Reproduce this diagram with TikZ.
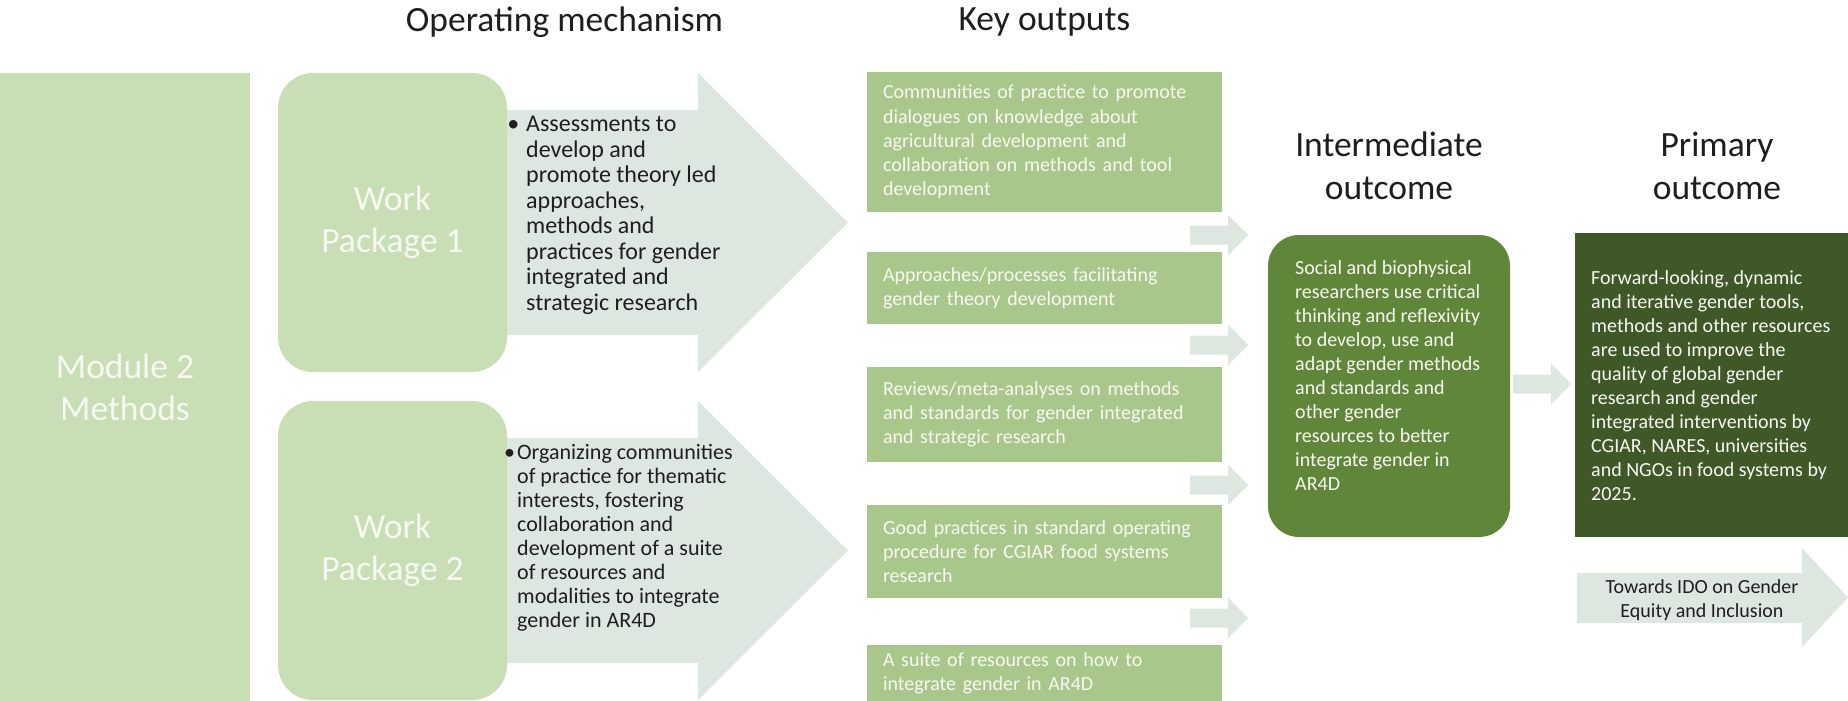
\documentclass[tikz,border=0pt]{standalone}
\usepackage{fontspec}
\setmainfont{Carlito}
\definecolor{modg}{RGB}{200,222,180}
\definecolor{keyg}{RGB}{169,199,139}
\definecolor{midg}{RGB}{96,134,58}
\definecolor{darkg}{RGB}{62,88,40}
\definecolor{arrg}{RGB}{222,231,223}
\definecolor{wtxt}{RGB}{246,249,242}
\definecolor{btxt}{RGB}{30,30,30}
\tikzset{
 ttl/.style={inner sep=0pt, text=btxt, font=\fontsize{35.5}{43}\selectfont, align=center},
 bigbox/.style={fill=modg, inner sep=0pt, text=wtxt, font=\fontsize{35.5}{42}\selectfont, align=center},
 keybox/.style={fill=keyg, inner xsep=16pt, inner ysep=0pt, text width=323pt, minimum width=355pt, align=left, text=wtxt, font=\fontsize{20}{24.2}\selectfont},
 outtxt/.style={inner sep=0pt, align=left, text=wtxt, font=\fontsize{20}{24}\selectfont},
 wptxt/.style={inner sep=0pt, align=left, text=btxt},
 arr/.style={fill=arrg},
 chev/.pic={\fill[arrg] (0,-9.5) -- (38,-9.5) -- (38,-20.5) -- (58,0) -- (38,20.5) -- (38,9.5) -- (0,9.5) -- cycle;}
}
\begin{document}
\begin{tikzpicture}[x=1pt,y=-1pt]
\useasboundingbox (0,0) rectangle (1848,701);
\fill[white] (0,0) rectangle (1848,701);

% titles
\node[ttl] (t1) at (564.5,22) {Operating mechanism};
\node[ttl] (t2) at (1044.5,22) {Key outputs};
\node[ttl] (t3) at (1389,166) {Intermediate\\outcome};
\node[ttl] (t4) at (1717,166) {Primary\\outcome};

% module
\node[bigbox, minimum width=250pt, minimum height=628pt] (mod) at (125,387) {Module 2\\Methods};

% big arrows
\fill[arr] (480,110) -- (698,110) -- (698,73) -- (848,222.5) -- (698,372) -- (698,335) -- (480,335) -- cycle;
\fill[arr] (480,438) -- (698,438) -- (698,401) -- (848,550.5) -- (698,700) -- (698,663) -- (480,663) -- cycle;

% work packages
\node[bigbox, rounded corners=35pt, minimum width=229pt, minimum height=299pt] (wp1) at (392.5,222.5) {Work\\Package 1};
\node[bigbox, rounded corners=35pt, minimum width=229pt, minimum height=299pt] (wp2) at (392.5,550.5) {Work\\Package 2};

\node[wptxt, font=\fontsize{24}{25.5}\selectfont, anchor=west] (wp1t) at (526,215.5)
 {\llap{\textbullet\hspace{7pt}}Assessments to\\develop and\\promote theory led\\approaches,\\methods and\\practices for gender\\integrated and\\strategic research};
\node[wptxt, font=\fontsize{22}{24}\selectfont, anchor=west] (wp2t) at (517,537.5)
 {\llap{\textbullet\hspace{2pt}}Organizing communities\\of practice for thematic\\interests, fostering\\collaboration and\\development of a suite\\of resources and\\modalities to integrate\\gender in AR4D};

% key outputs
\node[keybox, minimum height=140pt] (k1) at (1044.5,142) {Communities of practice to promote\\dialogues on knowledge about\\agricultural development and\\collaboration on methods and tool\\development};
\node[keybox, minimum height=72pt] (k2) at (1044.5,288) {Approaches/processes facilitating\\gender theory development};
\node[keybox, minimum height=95pt] (k3) at (1044.5,414.5) {Reviews/meta-analyses on methods\\and standards for gender integrated\\and strategic research};
\node[keybox, minimum height=93pt] (k4) at (1044.5,551.5) {Good practices in standard operating\\procedure for CGIAR food systems\\research};
\node[keybox, minimum height=56pt] (k5) at (1044.5,673) {A suite of resources on how to\\integrate gender in AR4D};

% small arrows
\pic at (1190,235) {chev};
\pic at (1190,345) {chev};
\pic at (1190,485) {chev};
\pic at (1190,618) {chev};
\pic at (1513,384) {chev};

% intermediate outcome
\node[fill=midg, rounded corners=31pt, minimum width=242pt, minimum height=302pt, inner sep=0pt] (im) at (1389,386) {};
\node[outtxt, anchor=west] (imt) at (1295,376) {Social and biophysical\\researchers use critical\\thinking and reflexivity\\to develop, use and\\adapt gender methods\\and standards and\\other gender\\resources to better\\integrate gender in\\AR4D};

% primary outcome
\node[fill=darkg, minimum width=273pt, minimum height=304pt, inner sep=0pt] (po) at (1711.5,385) {};
\node[outtxt, anchor=west] (pot) at (1591,386) {Forward-looking, dynamic\\and iterative gender tools,\\methods and other resources\\are used to improve the\\quality of global gender\\research and gender\\integrated interventions by\\CGIAR, NARES, universities\\and NGOs in food systems by\\2025.};

% towards arrow
\fill[arr] (1577,573) -- (1802,573) -- (1802,548) -- (1848,597.5) -- (1802,647) -- (1802,623) -- (1577,623) -- cycle;
\node[inner sep=0pt, align=center, text=btxt, font=\fontsize{20}{24}\selectfont] (ido) at (1702,600) {Towards IDO on Gender\\Equity and Inclusion};
\end{tikzpicture}
\end{document}
